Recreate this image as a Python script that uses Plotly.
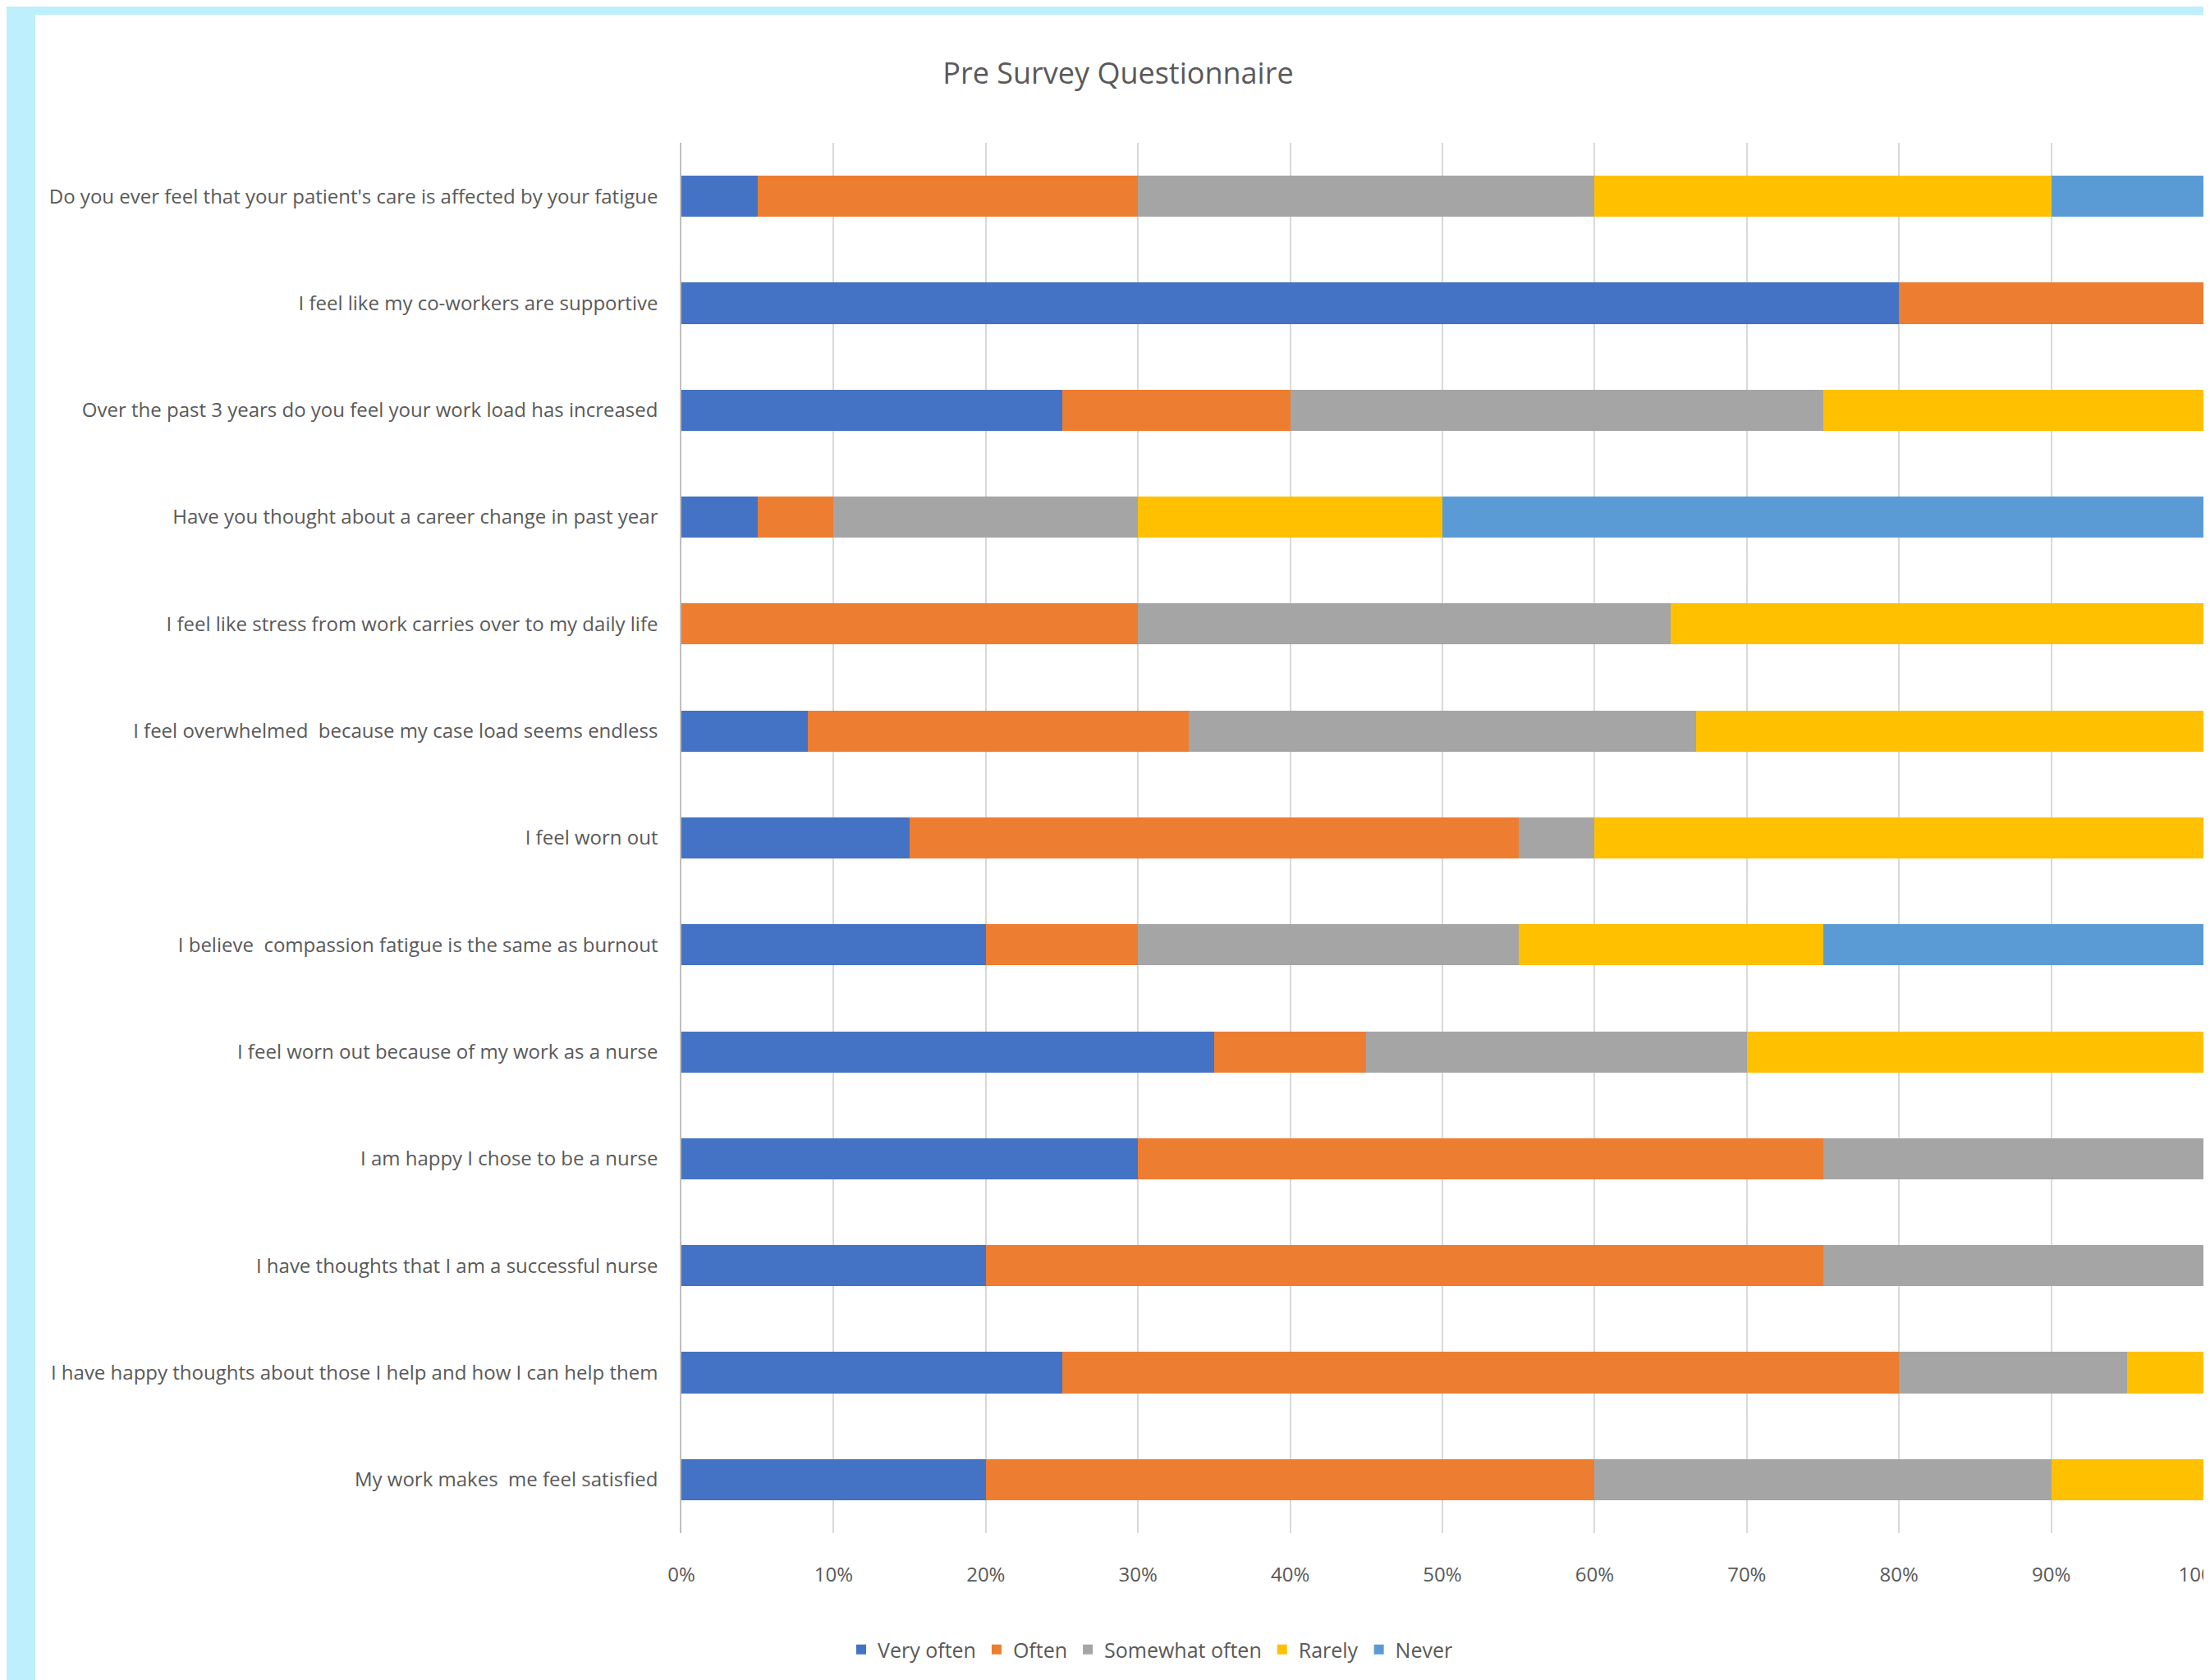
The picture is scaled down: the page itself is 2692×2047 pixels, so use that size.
import plotly.graph_objects as go

questions = [
    "Do you ever feel that your patient's care is affected by your fatigue",
    "I feel like my co-workers are supportive",
    "Over the past 3 years do you feel your work load has increased",
    "Have you thought about a career change in past year",
    "I feel like stress from work carries over to my daily life",
    "I feel overwhelmed  because my case load seems endless",
    "I feel worn out",
    "I believe  compassion fatigue is the same as burnout",
    "I feel worn out because of my work as a nurse",
    "I am happy I chose to be a nurse",
    "I have thoughts that I am a successful nurse",
    "I have happy thoughts about those I help and how I can help them",
    "My work makes  me feel satisfied",
]

very_often = [5, 80, 25, 5, 0, 8.33, 15, 20, 35, 30, 20, 25, 20]
often = [25, 20, 15, 5, 30, 25, 40, 10, 10, 45, 55, 55, 40]
somewhat_often = [30, 0, 35, 20, 35, 33.33, 5, 25, 25, 25, 25, 15, 30]
rarely = [30, 0, 25, 20, 35, 33.34, 40, 20, 30, 0, 0, 5, 10]
never = [10, 0, 0, 50, 0, 0, 0, 25, 0, 0, 0, 0, 0]

series_names = ["Very often", "Often", "Somewhat often", "Rarely", "Never"]
series_values = [very_often, often, somewhat_often, rarely, never]
colors = ["#4472C4", "#ED7D31", "#A5A5A5", "#FFC000", "#5B9BD5"]

tick_vals = [0, 10, 20, 30, 40, 50, 60, 70, 80, 90, 100]
tick_text = ["0%", "10%", "20%", "30%", "40%", "50%", "60%", "70%", "80%", "90%", "100%"]

FONT = "Open Sans, sans-serif"

fig = go.Figure()
for name, vals, col in zip(series_names, series_values, colors):
    fig.add_trace(go.Bar(
        y=questions, x=vals, name=name, orientation="h",
        marker=dict(color=col, line=dict(width=0)),
    ))

W, H = 2692, 2047
OFF = 8  # page body margin
L, T = 830 - OFF, 174 - OFF
R = W - (2684 - OFF)
B = H - (1868 - OFF)
pw, ph = W - L - R, H - T - B
bottom_px = H - B

fig.update_layout(
    width=W, height=H,
    barmode="stack",
    bargap=0.615,
    paper_bgcolor="#bdeffc",
    plot_bgcolor="#ffffff",
    margin=dict(l=L, r=R, t=T, b=B, pad=0, autoexpand=False),
    font=dict(family=FONT, color="#595959", size=24),
    title=dict(text="Pre Survey Questionnaire", x=(1362 - OFF) / W, xanchor="center",
               y=1 - (89 - OFF) / H, yanchor="middle",
               font=dict(family=FONT, size=36, color="#595959")),
    xaxis=dict(range=[0, 100], tickvals=tick_vals, ticktext=tick_text,
               showgrid=True, gridcolor="#d9d9d9", gridwidth=1.5,
               zeroline=False, showline=False, ticks="", automargin=False,
               ticklabelstandoff=34, ticklabeloverflow="allow",
               tickfont=dict(size=24, color="#595959")),
    yaxis=dict(autorange="reversed", showgrid=False, zeroline=False,
               showline=True, linecolor="#bfbfbf", linewidth=1.5, ticks="",
               automargin=False,
               ticklabelstandoff=22, tickfont=dict(size=24, color="#595959")),
    legend=dict(orientation="h", x=(1402 - OFF - L) / pw, xanchor="center",
                y=-(2010 - OFF - bottom_px) / ph, yanchor="middle",
                traceorder="normal", font=dict(size=25, color="#595959"),
                bgcolor="rgba(0,0,0,0)", itemwidth=30),
    shapes=[dict(type="rect", xref="paper", yref="paper", layer="below",
                 x0=(43 - OFF - L) / pw, x1=(W + 20 - L) / pw,
                 y0=-(H + 20 - bottom_px) / ph, y1=(bottom_px - (18 - OFF)) / ph,
                 fillcolor="#ffffff", line=dict(width=0))],
)

fig.write_html("out.html")
